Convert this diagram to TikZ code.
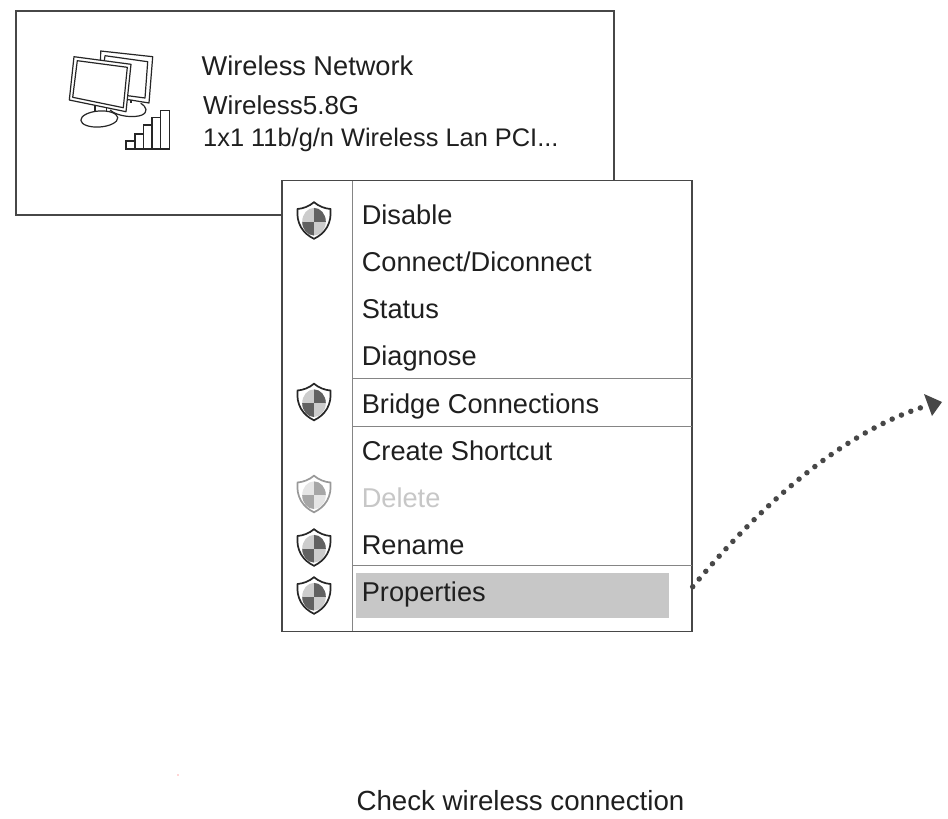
\documentclass[tikz,border=0pt]{standalone}
\usepackage{fontspec}
\setmainfont{Liberation Sans}
\begin{document}
\begin{tikzpicture}[x=1pt,y=-1pt,
  frame/.style={draw=black!72,line width=1.5pt,fill=white},
  sep/.style={draw=black!48,line width=0.9pt},
  item/.style={anchor=base west,inner sep=0pt,font=\fontsize{27.2}{30}\selectfont,text=black!88},
  card/.style={anchor=base west,inner sep=0pt,text=black!88},
  mon/.style={draw=black!85,line width=1.2pt,fill=white,line join=round},
  bar/.style={draw=black!85,line width=1.4pt,fill=white},
  shield/.pic={
    \path[draw=\shieldline,line width=1.7pt,fill=white]
      (0,-18.3) .. controls (5,-14) and (11,-12) .. (16.4,-11.5)
      .. controls (18,3) and (11,13) .. (0,18.3)
      .. controls (-11,13) and (-18,3) .. (-16.4,-11.5)
      .. controls (-11,-12) and (-5,-14) .. (0,-18.3) -- cycle;
    \fill[fill=\shieldlight] (0,1.2) ellipse [x radius=11.8,y radius=13.8];
    \begin{scope}
      \clip (0,1.2) ellipse [x radius=11.8,y radius=13.8];
      \fill[fill=\shielddark] (0,-14) rectangle (13,1.2);
      \fill[fill=\shielddark] (-13,1.2) rectangle (0,16);
    \end{scope}
  }]
\def\shieldline{black!85}\def\shieldlight{black!20}\def\shielddark{black!62}
\useasboundingbox (0,0) rectangle (948,819);

% network card
\node[frame,minimum width=598pt,minimum height=204pt,inner sep=0pt,anchor=north west,outer sep=0pt] (card) at (16.2,10.8) {};
\node[card,font=\fontsize{27.2}{30}\selectfont] (t1) at (201.5,75.8) {Wireless Network};
\node[card,font=\fontsize{26}{30}\selectfont] (t2) at (203,114) {Wireless5.8G};
\node[card,font=\fontsize{25.4}{30}\selectfont] (t3) at (203,146) {1x1 11b/g/n Wireless Lan PCI...};

% back monitor
\draw[mon] (110,110) .. controls (118,117) and (135,118) .. (142,115) .. controls (148,112) and (147,107) .. (140.7,103.3);
\draw[mon] (131,100) -- (131,103.3);
\draw[mon] (100.7,51) -- (152.7,56.7) -- (149,103) -- (100,95) -- cycle;
\draw[mon] (105,55.7) -- (147.7,61.7) -- (145,98) -- (100,92) -- cycle;
% front monitor
\draw[mon] (95,105.7) -- (95,111);
\draw[mon] (106.7,108.3) -- (106.7,113);
\draw[mon] (74,56.7) -- (131,64.3) -- (126,111.7) -- (69.3,100) -- cycle;
\draw[mon] (77.3,60.7) -- (127.3,67.3) -- (123.3,107.7) -- (72.7,97.3) -- cycle;
\draw[mon,rotate around={4:(99.3,119)}] (99.3,119) ellipse [x radius=18.5,y radius=8];
% signal bars
\draw[bar] (126,149) rectangle (135,141);
\draw[bar] (135,149) rectangle (143.7,134);
\draw[bar] (143.7,149) rectangle (152,125);
\draw[bar] (152,149) rectangle (160.7,117.7);
\draw[bar] (160.7,149) rectangle (169.3,110.3);

% context menu
\node[frame,minimum width=410pt,minimum height=451pt,inner sep=0pt,anchor=north west,outer sep=0pt] (menu) at (282.2,180.3) {};
\fill[black!22] (356,573) rectangle (669,618);
\draw[sep] (352,180.5) -- (352,631);
\draw[sep] (352,378.5) -- (692,378.5);
\draw[sep] (352,426.5) -- (692,426.5);
\draw[sep] (352,565.5) -- (692,565.5);

\node[item] (m1) at (361.6,224) {Disable};
\node[item] (m2) at (361.6,271) {Connect/Diconnect};
\node[item] (m3) at (361.6,318.8) {Status};
\node[item] (m4) at (361.6,365.8) {Diagnose};
\node[item] (m5) at (361.6,413) {Bridge Connections};
\node[item] (m6) at (361.6,460) {Create Shortcut};
\node[item,text=black!22] (m7) at (361.6,507.5) {Delete};
\node[item] (m8) at (361.6,554.8) {Rename};
\node[item] (m9) at (361.6,601.8) {Properties};

\pic at (314,220.5) {shield};
\pic at (314,402) {shield};
\begin{scope}
\def\shieldline{black!40}\def\shieldlight{black!10}\def\shielddark{black!35}
\pic at (314,494) {shield};
\end{scope}
\pic at (314,547.5) {shield};
\pic at (314,595.5) {shield};

% arrow
\coordinate (from) at (692.7,586.7);
\coordinate (to) at (923,407);
\draw[black!72,line width=5.5pt,line cap=round,dash pattern=on 0pt off 10.1pt]
  (from) .. controls (760,506) and (840,434) .. (to);
\fill[black!72] (942,402) -- (924,394) -- (932,416) -- cycle;

\node[anchor=base,inner sep=0pt,font=\fontsize{27.7}{30}\selectfont,text=black!88] (cap) at (520.5,810) {Check wireless connection};
\fill[red!70] (178,775) circle (0.6);
\end{tikzpicture}
\end{document}
